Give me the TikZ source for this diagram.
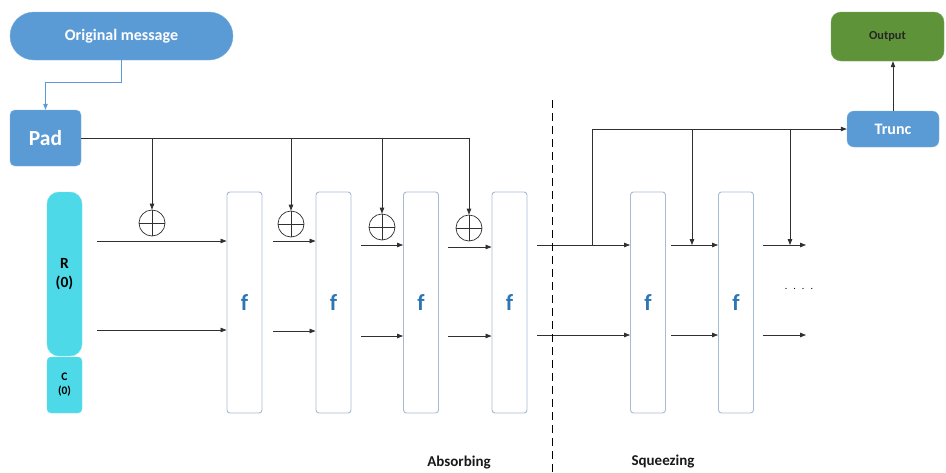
\documentclass[tikz,border=0pt]{standalone}
\usepackage{fontspec}
\setmainfont{Carlito}
\usetikzlibrary{arrows.meta,calc}
\definecolor{oblue}{HTML}{5B9BD5}
\definecolor{ocyan}{HTML}{4DD9E7}
\definecolor{ogreen}{HTML}{5F933A}
\definecolor{fbord}{HTML}{A7BAD4}
\definecolor{ftext}{HTML}{2E75B6}
\definecolor{lnk}{HTML}{303030}
\tikzset{
  arr/.style={draw=lnk,line width=0.75pt,-{Triangle[length=6pt,width=4.5pt]}},
  ln/.style={draw=lnk,line width=0.75pt},
  fbox/.style={draw=fbord,line width=0.9pt,rounded corners=3pt,minimum width=35pt,minimum height=221pt,inner sep=0pt,text=ftext,font=\bfseries\fontsize{23}{23}\selectfont},
  xorc/.style={circle,draw=lnk,line width=0.7pt,minimum size=26pt,inner sep=0pt},
  bluebox/.style={fill=oblue,draw=oblue!80!white,text=white,font=\bfseries,inner sep=0pt},
  lab/.style={font=\bfseries\fontsize{15}{15}\selectfont,text=black!90}
}
\begin{document}
\begin{tikzpicture}[x=1pt,y=-1pt]
\useasboundingbox (0,0) rectangle (946,472);
% top blocks
\node[bluebox,rounded corners=24pt,minimum width=223pt,minimum height=48pt,font=\bfseries\fontsize{16}{16}\selectfont] (orig) at (121.5,36) {Original message};
\node[bluebox,rounded corners=5pt,minimum width=71pt,minimum height=56pt,font=\bfseries\fontsize{21.5}{21.5}\selectfont] (pad) at (45.5,138) {Pad};
\node[bluebox,rounded corners=7pt,minimum width=92pt,minimum height=36pt,font=\bfseries\fontsize{16}{16}\selectfont] (trunc) at (893,129) {Trunc};
\node[fill=ogreen,draw=ogreen!85!white,rounded corners=10pt,minimum width=113pt,minimum height=49pt,inner sep=0pt,font=\bfseries\fontsize{12.3}{12.3}\selectfont,text=black!85] (output) at (887.5,36.5) {Output};
% state
\node[fill=ocyan,draw=ocyan!85!white,rounded corners=12pt,minimum width=35pt,minimum height=164pt,inner sep=0pt,align=center,font=\bfseries\fontsize{15.5}{18.5}\selectfont] (R) at (64.5,274) {R\\(0)};
\node[fill=ocyan,draw=ocyan!85!white,rounded corners=4pt,minimum width=35pt,minimum height=56pt,inner sep=0pt,align=center,font=\bfseries\fontsize{11.5}{14}\selectfont] (C) at (64.5,385) {C\\(0)};
% f boxes
\node[fbox] (f1) at (244.5,302.5) {f};
\node[fbox] (f2) at (333.5,302.5) {f};
\node[fbox] (f3) at (421,302.5) {f};
\node[fbox] (f4) at (509.5,302.5) {f};
\node[fbox] (f5) at (648,302.5) {f};
\node[fbox] (f6) at (736,302.5) {f};
% xor circles
\node[xorc] (x1) at (152,223) {};
\node[xorc] (x2) at (291,224) {};
\node[xorc] (x3) at (382,227) {};
\node[xorc] (x4) at (469,228) {};
\foreach \i in {1,2,3,4}{
  \draw[ln,line width=0.6pt] (x\i.north) -- (x\i.south) (x\i.west) -- (x\i.east);
}
% original -> pad
\draw[draw=oblue,line width=0.75pt,-{Triangle[length=6pt,width=4.5pt]}] (orig.south) -- ++(0,22) -| (pad.north);
% pad bus
\draw[arr] (pad.east) -| (x4.north);
\draw[arr] (pad.east -| x1.north) -- (x1.north);
\draw[arr] (pad.east -| x2.north) -- (x2.north);
\draw[arr] (pad.east -| x3.north) -- (x3.north);
% row arrows
\coordinate (a1) at (97,241);   \coordinate (b1) at (97,330);
\coordinate (a2) at (273,241);  \coordinate (b2) at (273,331);
\coordinate (a3) at (361,245);  \coordinate (b3) at (361,336);
\coordinate (a4) at (448,247);  \coordinate (b4) at (448,336);
\draw[arr] (a1) -- (a1 -| f1.west);
\draw[arr] (b1) -- (b1 -| f1.west);
\draw[arr] (a2) -- (a2 -| f2.west);
\draw[arr] (b2) -- (b2 -| f2.west);
\draw[arr] (a3) -- (a3 -| f3.west);
\draw[arr] (b3) -- (b3 -| f3.west);
\draw[arr] (a4) -- (a4 -| f4.west);
\draw[arr] (b4) -- (b4 -| f4.west);
\coordinate (a5) at (537,245);  \coordinate (b5) at (537,335);
\coordinate (a6) at (671,245);  \coordinate (b6) at (671,335);
\coordinate (a7) at (763,245);  \coordinate (b7) at (763,335);
\coordinate (e7) at (806,245);  \coordinate (g7) at (806,335);
\draw[arr] (a5) -- (a5 -| f5.west);
\draw[arr] (b5) -- (b5 -| f5.west);
\draw[arr] (a6) -- (a6 -| f6.west);
\draw[arr] (b6) -- (b6 -| f6.west);
\draw[arr] (a7) -- (e7);
\draw[arr] (b7) -- (g7);
% squeezing bus
\coordinate (s0) at (592,245);
\coordinate (d1) at (692,245);
\coordinate (d2) at (790,245);
\draw[arr] (s0) |- (trunc.west);
\draw[arr] (d1 |- trunc.west) -- (d1);
\draw[arr] (d2 |- trunc.west) -- (d2);
\draw[arr] (trunc.north) -- (trunc.north |- output.south);
% dots
\node[font=\fontsize{10}{10}\selectfont] (dots) at (799,289) {.\hspace{6pt}.\hspace{6pt}.\hspace{6pt}.};
% dashed separator
\coordinate (sepT) at (552,100);
\coordinate (sepB) at (552,472);
\draw[draw=black,line width=0.9pt,dash pattern=on 8pt off 5pt] (sepT) -- (sepB);
% labels
\node[lab] (absorb) at (459,463) {Absorbing};
\node[lab] (squeeze) at (663,462) {Squeezing};
\end{tikzpicture}
\end{document}
